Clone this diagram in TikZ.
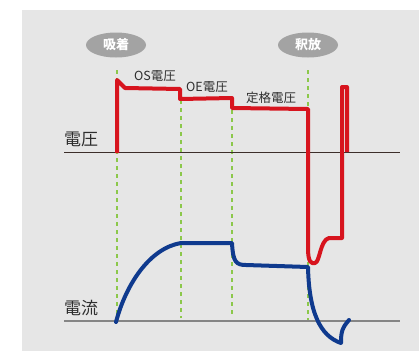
\documentclass[tikz,border=0pt]{standalone}
\usepackage{fontspec}
\usetikzlibrary{shapes.geometric}
\newfontfamily\jpfont{Noto Sans CJK JP}
\definecolor{bgc}{HTML}{E6E6E6}
\definecolor{ovalc}{HTML}{A3A3A3}
\definecolor{vred}{HTML}{D7141E}
\definecolor{iblue}{HTML}{0F3A8E}
\definecolor{gdash}{HTML}{8CC84B}
\definecolor{axv}{HTML}{3C2E2A}
\definecolor{axi}{HTML}{858585}
\definecolor{txt}{HTML}{2E2E2E}
\tikzset{
  phase/.style={ellipse, fill=ovalc, minimum width=60pt, minimum height=25pt, inner sep=0pt,
    text=white, font=\jpfont\bfseries\fontsize{13}{14}\selectfont},
  lvl/.style={text=txt, font=\jpfont\fontsize{12.5}{13}\selectfont, inner sep=0pt},
  axlabel/.style={text=txt, font=\jpfont\fontsize{17}{18}\selectfont, inner sep=0pt},
  guide/.style={gdash, line width=1.6pt, dash pattern=on 4pt off 4pt},
  vcurve/.style={vred, line width=4pt, line join=round},
  icurve/.style={iblue, line width=4pt, line join=round, line cap=round},
}
\begin{document}
\begin{tikzpicture}[x=1pt, y=-1pt]
\useasboundingbox (0,0) rectangle (419,351);
\fill[bgc] (22,10) rectangle (419,351);
% phase ovals
\node[phase] (adsorb) at (116,45) {吸着};
\node[phase] (release) at (308,45) {釈放};
% guides
\coordinate (g1t) at (117,70); \coordinate (g1b) at (117,322);
\coordinate (g2t) at (181,100); \coordinate (g2b) at (181,318);
\coordinate (g3t) at (232,110); \coordinate (g3b) at (232,316);
\coordinate (g4t) at (308,70); \coordinate (g4b) at (308,322);
\draw[guide] (g1t) -- (g1b);
\draw[guide] (g2t) -- (g2b);
\draw[guide] (g3t) -- (g3b);
\draw[guide] (g4t) -- (g4b);
% axes
\coordinate (va) at (64,152); \coordinate (vb) at (400,152);
\coordinate (ia) at (64,321); \coordinate (ib) at (400,321);
\draw[axv, line width=1pt] (va) -- (vb);
\draw[axi, line width=1.5pt] (ia) -- (ib);
\node[axlabel, anchor=south west] (vlab) at (64,147) {電圧};
\node[axlabel, anchor=south west] (ilab) at (64,316) {電流};
% level labels
\node[lvl] (os) at (155,76) {OS電圧};
\node[lvl] (oe) at (207,87) {OE電圧};
\node[lvl] (rated) at (271,98) {定格電圧};
% voltage curve
\draw[vcurve] (117,153) -- (117,80) -- (125,88) -- (180,89) -- (180,99) -- (232,98)
  -- (232,108) -- (308,109) -- (308,248)
  .. controls (308,262) and (311,264) .. (315,263)
  .. controls (320,262) and (320,240) .. (329,238)
  -- (342,238) -- (342,87) -- (347,87) -- (347,152);
% current curve
\draw[icurve] (116,322) .. controls (126,284) and (150,248) .. (181,243)
  -- (232,243) .. controls (233,262) and (236,265) .. (246,265)
  -- (308,267) .. controls (309,312) and (320,336) .. (341,343)
  .. controls (341,332) and (342,328) .. (349,320);
\end{tikzpicture}
\end{document}
